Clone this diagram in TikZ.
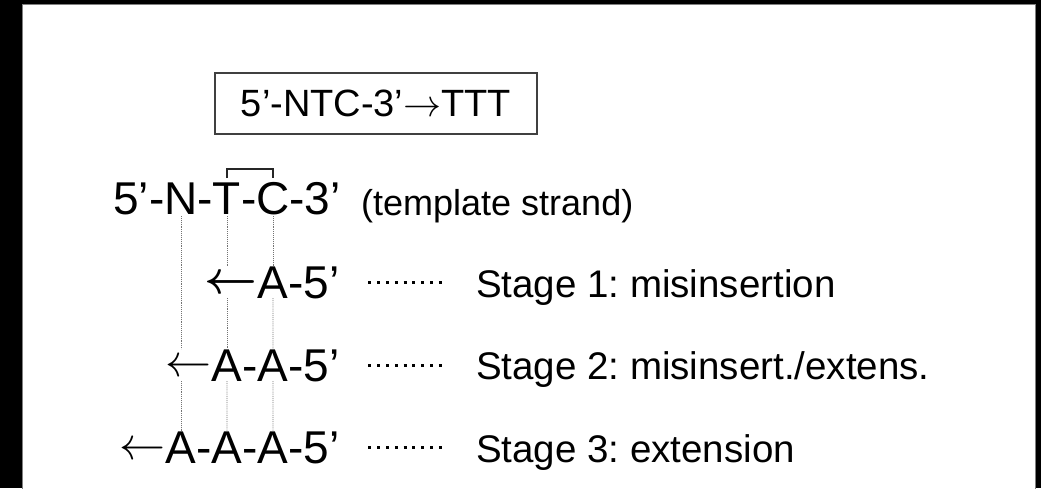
\RequirePackage{fix-cm}
\documentclass[tikz,border=0pt]{standalone}
\usepackage{bm}
\usepackage{fontspec}
\setmainfont{Liberation Sans}
\usetikzlibrary{calc}
\newcommand{\backarrow}{\raisebox{4.5pt}{$\leftarrow$}}
\newcommand{\boldbackarrow}{\raisebox{4.5pt}{$\bm{\leftarrow}$}}
\begin{document}
\begin{tikzpicture}[x=1pt,y=-1pt,
  seq/.style={inner sep=0pt, outer sep=0pt, font=\fontsize{46}{55}\selectfont,
              text height=32pt, text depth=0pt},
  boxed/.style={draw=black!75, line width=1.5pt, inner sep=0pt,
                minimum width=322pt, minimum height=61pt,
                font=\fontsize{38}{46}\selectfont},
  note/.style={inner sep=0pt, font=\fontsize{36}{43}\selectfont},
  stagelab/.style={inner sep=0pt, outer sep=0pt,
                   font=\fontsize{38.5}{46}\selectfont\frenchspacing},
  guide/.style={draw=black!55, line width=0.9pt, densely dotted},
  bracket/.style={draw=black!85, line width=2.2pt},
  leader/.style={draw=black, line width=3pt, dash pattern=on 3pt off 5.8pt,
                 shorten <=29pt, shorten >=29pt}]

% frame and page
\useasboundingbox (0,0) rectangle (1041,488);
\fill[black] (0,0) rectangle (1041,488);
\fill[white, draw=black!50, line width=0.8pt] (22,4) rectangle (1035,489);

% rule in the box
\node[boxed] (rule) at (376,103.5) {5’-NTC-3’$\rightarrow$TTT};

% template strand
\node[seq, anchor=base] (N) at (181,214) {N};
\node[seq, anchor=base east] (t5) at (N.base west) {5’-};
\node[seq, anchor=base west] (th1) at (N.base east) {-};
\node[seq, anchor=base west] (T) at (th1.base east) {T};
\node[seq, anchor=base west] (th2) at (T.base east) {-};
\node[seq, anchor=base west] (C) at (th2.base east) {C};
\node[seq, anchor=base west] (t3) at (C.base east) {-3’};
\node[note, anchor=base west] (tmpl) at (361,215) {(template strand)};
\draw[bracket] ([yshift=4pt]T.north) -- ([yshift=13pt]T.north)
  -- ([yshift=13pt]C.north) -- ([yshift=4pt]C.north);

% stage 1
\node[seq, anchor=base] (a11) at ($(C.base)+(0,84)$) {A};
\node[seq, anchor=base east] (r1) at (a11.base west) {\boldbackarrow};
\node[seq, anchor=base west] (e1) at (a11.base east) {-5’};

% stage 2
\node[seq, anchor=base] (a21) at ($(T.base)+(0,167)$) {A};
\node[seq, anchor=base west] (h21) at (a21.base east) {-};
\node[seq, anchor=base west] (a22) at (h21.base east) {A};
\node[seq, anchor=base east] (r2) at (a21.base west) {\backarrow};
\node[seq, anchor=base west] (e2) at (a22.base east) {-5’};

% stage 3
\node[seq, anchor=base] (a31) at ($(N.base)+(0,249.5)$) {A};
\node[seq, anchor=base west] (h31) at (a31.base east) {-};
\node[seq, anchor=base west] (a32) at (h31.base east) {A};
\node[seq, anchor=base west] (h32) at (a32.base east) {-};
\node[seq, anchor=base west] (a33) at (h32.base east) {A};
\node[seq, anchor=base east] (r3) at (a31.base west) {\backarrow};
\node[seq, anchor=base west] (e3) at (a33.base east) {-5’};

% stage labels
\node[stagelab, anchor=base west] (l1) at (476,297) {Stage 1: misinsertion};
\node[stagelab, anchor=base west] (l2) at (476,379) {Stage 2: misinsert./extens.};
\node[stagelab, anchor=base west] (l3) at (476,462) {Stage 3: extension};

% leaders from each primer to its label
\draw[leader] (e1.east) -- (e1.east -| l1.west);
\draw[leader] (e2.east) -- (e2.east -| l2.west);
\draw[leader] (e3.east) -- (e3.east -| l3.west);

% pairing guides from the template bases down the columns
\draw[guide, shorten <=2pt] (N.south) -- (N.south |- r2.north);
\draw[guide] (N.south |- r2.south) -- (a31.north);
\draw[guide, shorten <=2pt] (T.south) -- (T.south |- r1.north);
\draw[guide] (T.south |- r1.south) -- (a21.north);
\draw[guide] (a21.south) -- (a32.north);
\draw[guide, shorten <=2pt] (C.south) -- (a11.north);
\draw[guide] (a11.south) -- (a22.north);
\draw[guide] (a22.south) -- (a33.north);
\end{tikzpicture}
\end{document}
